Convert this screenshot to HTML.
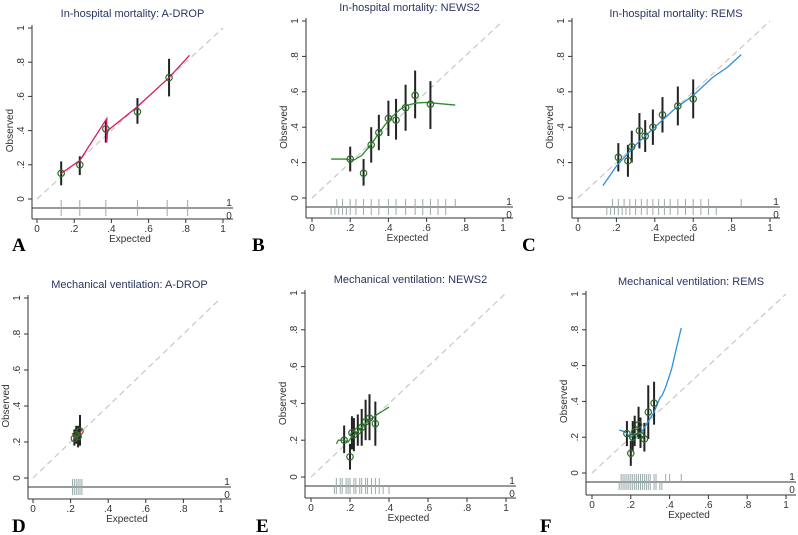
<!DOCTYPE html>
<html><head><meta charset="utf-8"><style>
body{margin:0;background:#fff}
svg{display:block;font-family:"Liberation Sans",sans-serif}
</style></head><body>
<svg id="s" width="798" height="535"></svg>
<script>
// Panel data (expected, observed, ci low, ci high)
const aExp=[0.13,0.23,0.37,0.54,0.71];
const aObs=[0.15,0.20,0.41,0.51,0.71];
const aLo=[0.08,0.14,0.33,0.44,0.60];
const aHi=[0.22,0.25,0.46,0.59,0.82];
const aCurveX=[0.13,0.23,0.375,0.375,0.38,0.54,0.71,0.82];
const aCurveY=[0.15,0.225,0.47,0.33,0.40,0.54,0.71,0.84];
const aRug1=[0.13,0.23,0.37,0.54,0.70,0.81];
const aRug0=[0.13,0.23,0.37,0.54,0.70,0.81];

const bExp=[0.20,0.27,0.31,0.35,0.40,0.44,0.49,0.54,0.62];
const bObs=[0.22,0.14,0.30,0.37,0.45,0.44,0.51,0.58,0.53];
const bLo=[0.15,0.07,0.20,0.27,0.35,0.33,0.38,0.45,0.39];
const bHi=[0.29,0.22,0.40,0.47,0.55,0.56,0.64,0.72,0.66];
const bCurveX=[0.10,0.17,0.22,0.26,0.30,0.34,0.38,0.42,0.46,0.50,0.55,0.60,0.65,0.70,0.75];
const bCurveY=[0.22,0.22,0.215,0.24,0.29,0.35,0.41,0.46,0.50,0.525,0.537,0.54,0.535,0.53,0.525];
const bRug1=[0.13,0.16,0.20,0.23,0.27,0.31,0.35,0.40,0.44,0.49,0.54,0.58,0.62,0.66,0.70,0.75];
const bRug0=[0.10,0.12,0.14,0.16,0.18,0.20,0.23,0.27,0.31,0.35,0.40,0.44,0.49,0.54,0.58,0.62,0.66,0.70];

const cExp=[0.21,0.26,0.28,0.32,0.35,0.39,0.44,0.52,0.60];
const cObs=[0.23,0.21,0.29,0.38,0.35,0.40,0.47,0.52,0.56];
const cLo=[0.15,0.12,0.20,0.28,0.26,0.30,0.37,0.41,0.45];
const cHi=[0.31,0.30,0.38,0.48,0.44,0.50,0.57,0.63,0.67];
const cCurveX=[0.13,0.20,0.30,0.40,0.50,0.60,0.70,0.78,0.85];
const cCurveY=[0.07,0.18,0.30,0.40,0.50,0.58,0.68,0.74,0.81];
const cRug1=[0.18,0.21,0.24,0.27,0.30,0.33,0.36,0.39,0.42,0.45,0.48,0.52,0.56,0.60,0.64,0.68,0.85];
const cRug0=[0.15,0.17,0.19,0.21,0.23,0.25,0.27,0.30,0.33,0.36,0.39,0.42,0.45,0.48,0.52,0.56,0.60,0.64,0.68,0.72];

const dExp=[0.22,0.23,0.24,0.25];
const dObs=[0.22,0.24,0.23,0.26];
const dLo=[0.18,0.19,0.17,0.18];
const dHi=[0.27,0.29,0.29,0.35];
const dCurveX=[0.21,0.22,0.23,0.24,0.26];
const dCurveY=[0.25,0.22,0.235,0.23,0.27];
const dRug1=[0.21,0.22,0.23,0.24,0.25,0.26];
const dRug0=[0.21,0.22,0.23,0.24,0.25,0.26];

const eExp=[0.17,0.20,0.21,0.22,0.24,0.26,0.28,0.30,0.33];
const eObs=[0.20,0.11,0.24,0.23,0.25,0.27,0.30,0.32,0.29];
const eLo=[0.13,0.04,0.15,0.14,0.17,0.17,0.20,0.20,0.17];
const eHi=[0.28,0.18,0.33,0.32,0.34,0.37,0.42,0.45,0.41];
const eCurveX=[0.13,0.14,0.17,0.19,0.21,0.25,0.30,0.34,0.40];
const eCurveY=[0.18,0.20,0.20,0.19,0.22,0.26,0.31,0.34,0.38];
const eRug1=[0.13,0.15,0.16,0.18,0.19,0.20,0.22,0.23,0.25,0.26,0.28,0.29,0.31,0.33,0.35];
const eRug0=[0.12,0.13,0.15,0.16,0.18,0.19,0.20,0.22,0.23,0.25,0.26,0.28,0.29,0.31,0.33,0.35,0.37,0.40];

const fExp=[0.18,0.20,0.21,0.22,0.24,0.25,0.27,0.29,0.32];
const fObs=[0.22,0.11,0.20,0.23,0.27,0.21,0.19,0.34,0.39];
const fLo=[0.15,0.04,0.12,0.15,0.19,0.14,0.12,0.19,0.27];
const fHi=[0.29,0.18,0.29,0.32,0.37,0.31,0.28,0.49,0.51];
const fCurveX=[0.14,0.17,0.20,0.22,0.25,0.28,0.32,0.35,0.36,0.38,0.41,0.44,0.46];
const fCurveY=[0.24,0.23,0.20,0.22,0.22,0.27,0.34,0.42,0.43,0.48,0.58,0.72,0.81];
const fRug1=[0.15,0.16,0.17,0.18,0.19,0.20,0.21,0.22,0.23,0.24,0.25,0.26,0.27,0.28,0.29,0.30,0.32,0.33,0.38,0.40,0.46];
const fRug0=[0.14,0.15,0.16,0.17,0.18,0.19,0.20,0.21,0.22,0.23,0.24,0.25,0.26,0.27,0.28,0.29,0.30,0.32,0.33,0.35,0.36];

const panels=[
 {id:'a',letter:'A',title:'In-hospital mortality: A-DROP',col:'#d81b6b',x0:37,x1:223,y0:199,y1:28,left:32,rug:208,bot:219,ty:17,lx:12,ly:251,
  ex:aExp,ob:aObs,lo:aLo,hi:aHi,cx:aCurveX,cy:aCurveY,r1:aRug1,r0:aRug0},
 {id:'b',letter:'B',title:'In-hospital mortality: NEWS2',col:'#2e8b2e',x0:312,x1:503,y0:198,y1:21,left:306,rug:207,bot:218,ty:11,lx:252,ly:251,
  ex:bExp,ob:bObs,lo:bLo,hi:bHi,cx:bCurveX,cy:bCurveY,r1:bRug1,r0:bRug0},
 {id:'c',letter:'C',title:'In-hospital mortality: REMS',col:'#2f8fd8',x0:578,x1:770,y0:198,y1:21,left:572,rug:207,bot:218,ty:17,lx:522,ly:251,
  ex:cExp,ob:cObs,lo:cLo,hi:cHi,cx:cCurveX,cy:cCurveY,r1:cRug1,r0:cRug0},
 {id:'d',letter:'D',title:'Mechanical ventilation: A-DROP',col:'#d81b6b',x0:33,x1:221,y0:478,y1:298,left:28,rug:487,bot:499,ty:288,lx:12,ly:532,
  ex:dExp,ob:dObs,lo:dLo,hi:dHi,cx:dCurveX,cy:dCurveY,r1:dRug1,r0:dRug0},
 {id:'e',letter:'E',title:'Mechanical ventilation: NEWS2',col:'#2e8b2e',x0:311,x1:506,y0:477,y1:293,left:305,rug:486,bot:498,ty:283,lx:256,ly:532,
  ex:eExp,ob:eObs,lo:eLo,hi:eHi,cx:eCurveX,cy:eCurveY,r1:eRug1,r0:eRug0},
 {id:'f',letter:'F',title:'Mechanical ventilation: REMS',col:'#2f8fd8',x0:592,x1:786,y0:473,y1:294,left:586,rug:482,bot:495,ty:285,lx:540,ly:532,
  ex:fExp,ob:fObs,lo:fLo,hi:fHi,cx:fCurveX,cy:fCurveY,r1:fRug1,r0:fRug0}
];
const ticks=[0,0.2,0.4,0.6,0.8,1];
const tickLabels=['0','.2','.4','.6','.8','1'];
const NS='http://www.w3.org/2000/svg';
const svg=document.getElementById('s');
function mk(tag,at,parent,txt){const e=document.createElementNS(NS,tag);for(const k in at)e.setAttribute(k,at[k]);if(txt!==undefined)e.textContent=txt;(parent||svg).appendChild(e);return e;}
panels.forEach(p=>{
 const X=v=>p.x0+v*(p.x1-p.x0), Y=v=>p.y0-v*(p.y0-p.y1);
 const g=mk('g',{});
 
 
 const right=p.x1+10;
 const t=mk('text',{x:(p.left+right)/2,y:p.ty,'text-anchor':'middle','font-size':11,fill:'#2a3560'},g,p.title);
 
 
 // axes
 const ya=mk('line',{x1:p.left,y1:p.y1-3,x2:p.left,y2:p.bot,stroke:'#333','stroke-width':1},g);
 
 
 const xa=mk('line',{x1:p.left,y1:p.bot,x2:right,y2:p.bot,stroke:'#333','stroke-width':1},g);
 
 
 ticks.forEach((v,i)=>{
  mk('line',{x1:X(v),y1:p.bot,x2:X(v),y2:p.bot+4,stroke:'#333'},g);
  const xl=mk('text',{x:X(v),y:p.bot+13,'text-anchor':'middle','font-size':10,fill:'#333'},g,tickLabels[i]);
  
  
  mk('line',{x1:p.left-4,y1:Y(v),x2:p.left,y2:Y(v),stroke:'#333'},g);
  const yl=mk('text',{x:p.left-8,y:Y(v),'text-anchor':'middle','font-size':10,fill:'#333',transform:`rotate(-90 ${p.left-8} ${Y(v)})`},g,tickLabels[i]);
  
  
 });
 const xt=mk('text',{x:(X(0)+X(1))/2,y:p.bot+23,'text-anchor':'middle','font-size':10,fill:'#333'},g,'Expected');
 
 
 const yy=Y(0.4);
 const yt=mk('text',{x:p.left-19,y:yy,'text-anchor':'middle','font-size':10,fill:'#333',transform:`rotate(-90 ${p.left-19} ${yy})`},g,'Observed');
 
 
 // reference diagonal
 const dl=mk('line',{x1:X(0),y1:Y(0),x2:X(1),y2:Y(1),stroke:'#c8c8c8','stroke-width':1.2,'stroke-dasharray':'6 4'},g);
 
 
 // rug
 mk('line',{x1:p.left,y1:p.rug,x2:right,y2:p.rug,stroke:'#333','stroke-width':1},g);
 mk('text',{x:right-4,y:p.rug-2,'text-anchor':'middle','font-size':10,fill:'#333'},g,'1');
 mk('text',{x:right-4,y:p.rug+11,'text-anchor':'middle','font-size':10,fill:'#333'},g,'0');
 p.r1.forEach(v=>{const r=mk('line',{x1:X(v),y1:p.rug-8,x2:X(v),y2:p.rug,stroke:'#9aa','stroke-width':1},g);
  });
 p.r0.forEach(v=>{const r=mk('line',{x1:X(v),y1:p.rug,x2:X(v),y2:p.rug+8,stroke:'#9aa','stroke-width':1},g);
  });
 // CIs
 p.ex.forEach((v,i)=>{const c=mk('line',{x1:X(v),y1:Y(p.lo[i]),x2:X(v),y2:Y(p.hi[i]),stroke:'#222','stroke-width':2},g);
  });
 // smooth curve
 const pts=p.cx.map((v,i)=>X(v)+','+Y(p.cy[i])).join(' ');
 const pl=mk('polyline',{points:pts,fill:'none',stroke:p.col,'stroke-width':1.3},g);
 
 
 // points
 p.ex.forEach((v,i)=>{const c=mk('circle',{cx:X(v),cy:Y(p.ob[i]),r:3.2,fill:'none',stroke:'#2f6b2f','stroke-width':1.2},g);
  });
 const L=mk('text',{x:p.lx,y:p.ly,'font-size':19,'font-weight':'bold','font-family':'"Liberation Serif",serif',fill:'#000'},g,p.letter);
 
 
});
</script>
</body></html>
